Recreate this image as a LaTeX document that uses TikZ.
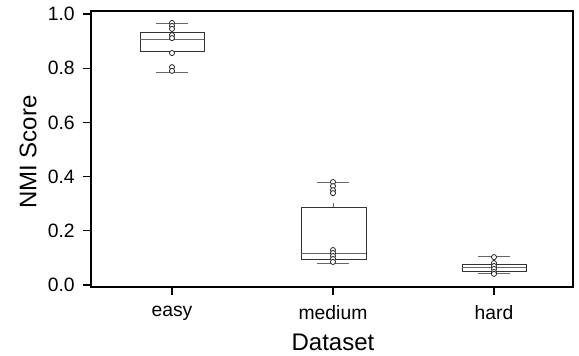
\documentclass[tikz,border=0pt]{standalone}
\usepackage{fontspec}
\setmainfont{Liberation Sans}
\begin{document}
\begin{tikzpicture}[x=0.75pt,y=203.25pt]

\tikzstyle{boxline}=[draw=black!80,line width=0.55pt]
\tikzstyle{whisk}=[draw=black!60,line width=0.65pt]
\tikzstyle{dot}=[draw=black!90,line width=0.55pt,fill=white]
\tikzstyle{ticklab}=[font=\fontsize{14.5}{16}\selectfont,inner sep=0pt]
\tikzstyle{axlab}=[font=\fontsize{18}{20}\selectfont,inner sep=0pt]

\useasboundingbox (0,-0.2583) rectangle (579,1.0517);

% frame
\draw[line width=1.3pt] (91,-0.0074) rectangle (573,1.011);

% y axis
\draw[line width=0.8pt] (91,0) -- (83,0);
\draw[line width=0.8pt] (91,0.2) -- (83,0.2);
\draw[line width=0.8pt] (91,0.4) -- (83,0.4);
\draw[line width=0.8pt] (91,0.6) -- (83,0.6);
\draw[line width=0.8pt] (91,0.8) -- (83,0.8);
\draw[line width=0.8pt] (91,1) -- (83,1);
\node[ticklab,anchor=east] (y0) at (75,0) {0.0};
\node[ticklab,anchor=east] (y2) at (75,0.2) {0.2};
\node[ticklab,anchor=east] (y4) at (75,0.4) {0.4};
\node[ticklab,anchor=east] (y6) at (75,0.6) {0.6};
\node[ticklab,anchor=east] (y8) at (75,0.8) {0.8};
\node[ticklab,anchor=east] (y10) at (75,1) {1.0};
\node[axlab,rotate=90] (ylab) at (28,0.4908) {NMI Score};

% x axis
\draw[line width=0.8pt] (172,-0.0074) -- (172,-0.0369);
\draw[line width=0.8pt] (333,-0.0074) -- (333,-0.0369);
\draw[line width=0.8pt] (494,-0.0074) -- (494,-0.0369);
\node[ticklab] (easy) at (172,-0.1033) {easy};
\node[ticklab] (medium) at (333,-0.1033) {medium};
\node[ticklab] (hard) at (494,-0.1033) {hard};
\node[axlab] (xlab) at (333,-0.2103) {Dataset};

% easy
\draw[whisk] (172,0.934) -- (172,0.967);
\draw[whisk] (172,0.863) -- (172,0.856);
\draw[whisk] (156,0.967) -- (188,0.967);
\draw[whisk] (156,0.786) -- (188,0.786);
\draw[boxline] (140,0.863) rectangle (204,0.934);
\draw[whisk] (140,0.908) -- (204,0.908);
\draw[dot] (172,0.967) circle (1.9pt);
\draw[dot] (172,0.956) circle (1.9pt);
\draw[dot] (172,0.945) circle (1.9pt);
\draw[dot] (172,0.922) circle (1.9pt);
\draw[dot] (172,0.911) circle (1.9pt);
\draw[dot] (172,0.856) circle (1.9pt);
\draw[dot] (172,0.804) circle (1.9pt);
\draw[dot] (172,0.790) circle (1.9pt);

% medium
\draw[whisk] (333,0.288) -- (333,0.303);
\draw[whisk] (333,0.096) -- (333,0.081);
\draw[whisk] (317,0.380) -- (349,0.380);
\draw[whisk] (317,0.081) -- (349,0.081);
\draw[boxline] (301,0.096) rectangle (366,0.288);
\draw[whisk] (301,0.118) -- (366,0.118);
\draw[dot] (333,0.380) circle (1.9pt);
\draw[dot] (333,0.365) circle (1.9pt);
\draw[dot] (333,0.350) circle (1.9pt);
\draw[dot] (333,0.339) circle (1.9pt);
\draw[dot] (333,0.129) circle (1.9pt);
\draw[dot] (333,0.118) circle (1.9pt);
\draw[dot] (333,0.107) circle (1.9pt);
\draw[dot] (333,0.096) circle (1.9pt);
\draw[dot] (333,0.085) circle (1.9pt);

% hard
\draw[whisk] (494,0.077) -- (494,0.107);
\draw[whisk] (494,0.052) -- (494,0.041);
\draw[whisk] (478,0.107) -- (510,0.107);
\draw[whisk] (478,0.041) -- (510,0.041);
\draw[boxline] (462,0.052) rectangle (526,0.077);
\draw[whisk] (462,0.063) -- (526,0.063);
\draw[dot] (494,0.103) circle (1.9pt);
\draw[dot] (494,0.081) circle (1.9pt);
\draw[dot] (494,0.070) circle (1.9pt);
\draw[dot] (494,0.059) circle (1.9pt);
\draw[dot] (494,0.048) circle (1.9pt);
\draw[dot] (494,0.041) circle (1.9pt);

\end{tikzpicture}
\end{document}
